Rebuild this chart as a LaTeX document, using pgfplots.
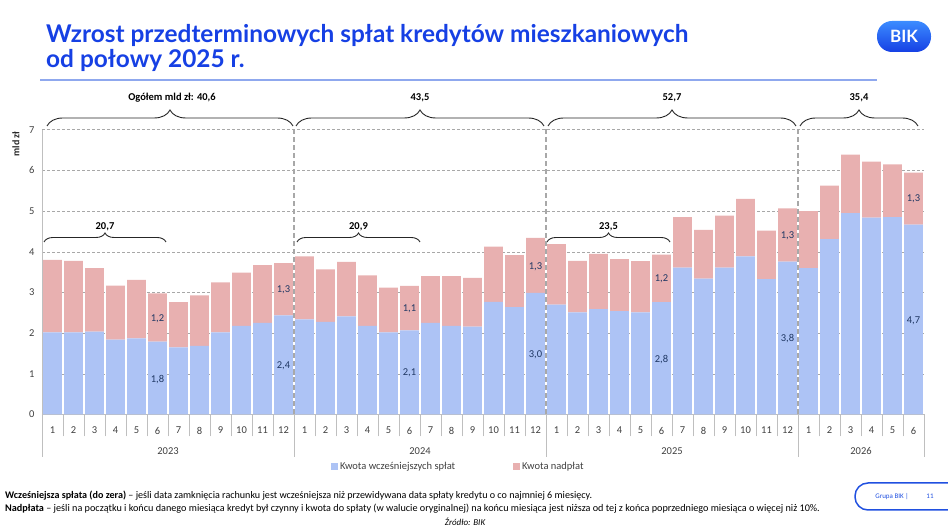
\documentclass[border=0pt]{standalone}
\usepackage{fontspec}
\setmainfont{Carlito}
\newfontfamily\titlefont{Lato}
\usepackage{pgfplots}
\usepackage{pgfplotstable}
\pgfplotsset{compat=1.18}
\usetikzlibrary{decorations.pathreplacing}
\definecolor{barblue}{HTML}{ADC3F5}
\definecolor{barred}{HTML}{E8B0B0}
\definecolor{titleblue}{RGB}{22,64,228}
\definecolor{lineblue}{HTML}{8FA8EE}
\definecolor{lblnavy}{HTML}{203864}
\definecolor{gridgray}{HTML}{A8A8A8}
\definecolor{axgray}{HTML}{BFBFBF}
\definecolor{boxblue}{HTML}{2050E0}
\definecolor{logotop}{HTML}{3C8CFF}

\pgfplotstableread{
x blue red
0 2.02 1.78
1 2.02 1.76
2 2.04 1.56
3 1.84 1.33
4 1.87 1.44
5 1.79 1.19
6 1.65 1.11
7 1.69 1.24
8 2.02 1.23
9 2.18 1.31
10 2.25 1.42
11 2.44 1.28
12 2.34 1.55
13 2.28 1.29
14 2.41 1.34
15 2.18 1.24
16 2.02 1.10
17 2.07 1.09
18 2.25 1.15
19 2.18 1.22
20 2.16 1.20
21 2.77 1.36
22 2.64 1.28
23 2.99 1.35
24 2.70 1.49
25 2.51 1.27
26 2.59 1.36
27 2.54 1.28
28 2.51 1.26
29 2.76 1.17
30 3.61 1.24
31 3.34 1.20
32 3.61 1.28
33 3.89 1.41
34 3.33 1.19
35 3.76 1.31
36 3.60 1.40
37 4.31 1.32
38 4.95 1.44
39 4.84 1.38
40 4.85 1.30
41 4.67 1.28
}\bikdata

\begin{document}
\begin{tikzpicture}[x=1pt,y=1pt]
\useasboundingbox (0,0) rectangle (948,527);
% title
\node[anchor=base west, inner sep=0pt, text=titleblue, font=\titlefont\bfseries\fontsize{24.4}{27}\selectfont] at (46,484) {Wzrost przedterminowych spłat kredytów mieszkaniowych};
\node[anchor=base west, inner sep=0pt, text=titleblue, font=\titlefont\bfseries\fontsize{24.4}{27}\selectfont] at (46,459) {od połowy 2025 r.};
\draw[lineblue, line width=2pt] (40,447) -- (877,447);
% logo
\shade[top color=logotop, bottom color=titleblue, rounded corners=15pt] (877,475) rectangle (931,506);
\node[text=white, font=\titlefont\bfseries\fontsize{17}{19}\selectfont] at (904,490.5) {BIK};

\begin{axis}[
  at={(42pt,112.5pt)}, anchor=south west,
  scale only axis, width=882pt, height=284.7pt,
  ybar stacked, bar width=0.9,
  xmin=-0.5, xmax=41.5, ymin=0, ymax=7,
  ytick={0,1,2,3,4,5,6,7},
  xtick={0,1,...,41},
  xticklabels={1,2,3,4,5,6,7,8,9,10,11,12,1,2,3,4,5,6,7,8,9,10,11,12,1,2,3,4,5,6,7,8,9,10,11,12,1,2,3,4,5,6},
  minor xtick={-0.5,0.5,...,41.5},
  major tick length=0pt, minor tick length=22pt, tick align=outside,
  minor tick style={axgray, line width=0.9pt},
  axis lines*=left, axis line style={axgray, line width=0.9pt},
  ymajorgrids, major grid style={gridgray, densely dashed, line width=0.6pt},
  tick label style={font=\fontsize{10.5}{12}\selectfont, text=black!75},
  xticklabel style={yshift=-9pt},
  yticklabel style={xshift=-4pt},
  /pgf/number format/assume math mode=true,
  clip=false,
  legend style={at={(0.472,-0.183)}, anchor=center, legend columns=2, draw=none, fill=none,
    font=\fontsize{10.5}{12}\selectfont, text=black!75,
    /tikz/every even column/.append style={column sep=56pt}},
  legend image code/.code={\fill[#1] (0pt,-3pt) rectangle (7pt,4pt);},
]
\addplot[fill=barblue, draw=none] table[x=x, y=blue] {\bikdata};
\addlegendentry{Kwota wcześniejszych spłat}
\addplot[fill=barred, draw=none] table[x=x, y=red] {\bikdata};
\addlegendentry{Kwota nadpłat}
\end{axis}

% data labels
\begin{scope}[every node/.style={text=lblnavy, font=\fontsize{10.5}{12}\selectfont}]
\node at (157.5,147.9) {1,8};
\node at (157.5,208.1) {1,2};
\node at (283.5,161.3) {2,4};
\node at (283.5,237.4) {1,3};
\node at (409.5,154.0) {2,1};
\node at (409.5,218.2) {1,1};
\node at (535.5,172.7) {3,0};
\node at (535.5,260.5) {1,3};
\node at (661.5,167.8) {2,8};
\node at (661.5,247.9) {1,2};
\node at (787.5,188.1) {3,8};
\node at (787.5,291.4) {1,3};
\node at (913.5,206.4) {4,7};
\node at (913.5,328.1) {1,3};
\end{scope}

% braces
\begin{scope}[black!85, line width=0.9pt]
\draw[decorate, decoration={brace, amplitude=16pt}] (47,401) -- (293,401);
\draw[decorate, decoration={brace, amplitude=16pt}] (296,401) -- (544,401);
\draw[decorate, decoration={brace, amplitude=16pt}] (548,401) -- (796,401);
\draw[decorate, decoration={brace, amplitude=16pt}] (800,401) -- (918,401);
\draw[decorate, decoration={brace, amplitude=9pt}] (44,285) -- (166,285);
\draw[decorate, decoration={brace, amplitude=9pt}] (297,285) -- (420,285);
\draw[decorate, decoration={brace, amplitude=9pt}] (547,285) -- (670,285);
\end{scope}
\begin{scope}[every node/.style={text=black, font=\bfseries\fontsize{10.5}{12}\selectfont}]
\node at (172,429) {Ogółem mld zł: 40,6};
\node at (420,429) {43,5};
\node at (672,429) {52,7};
\node at (859,429) {35,4};
\node at (105,300.3) {20,7};
\node at (358.5,300.3) {20,9};
\node at (608.5,300.3) {23,5};
\end{scope}

% year separators
\foreach \xx in {294,546,798} {
  \draw[gridgray, line width=1.3pt, dash pattern=on 5pt off 3pt] (\xx,113) -- (\xx,399);
}
\foreach \xx in {42,294,546,798,924} {
  \draw[axgray, line width=0.9pt] (\xx,112.5) -- (\xx,70);
}
\begin{scope}[every node/.style={text=black!75, font=\fontsize{10.5}{12}\selectfont}]
\node at (168,76) {2023};
\node at (420,76) {2024};
\node at (672,76) {2025};
\node at (861,76) {2026};
\end{scope}
% y label
\node[rotate=90, font=\bfseries\fontsize{10}{12}\selectfont, text=black!85] at (16,383) {mld zł};

% notes
\node[anchor=base west, inner sep=0pt, font=\fontsize{10.1}{12}\selectfont] at (5,28) {\textbf{Wcześniejsza spłata (do zera)} – jeśli data zamknięcia rachunku jest wcześniejsza niż przewidywana data spłaty kredytu o co najmniej 6 miesięcy.};
\node[anchor=base west, inner sep=0pt, font=\fontsize{10.2}{12}\selectfont] at (5,15) {\textbf{Nadpłata} – jeśli na początku i końcu danego miesiąca kredyt był czynny i kwota do spłaty (w walucie oryginalnej) na końcu miesiąca jest niższa od tej z końca poprzedniego miesiąca o więcej niż 10\%.};
\node[font=\itshape\fontsize{9}{10}\selectfont] at (465,5) {Źródło: BIK};
% page box
\draw[boxblue, line width=1.5pt, rounded corners=13pt] (855,17) rectangle (990,44);
\node[text=boxblue, font=\fontsize{7}{8}\selectfont] at (892,30.5) {Grupa BIK |};
\node[text=boxblue, font=\fontsize{7}{8}\selectfont] at (930,30.5) {11};
\end{tikzpicture}
\end{document}
